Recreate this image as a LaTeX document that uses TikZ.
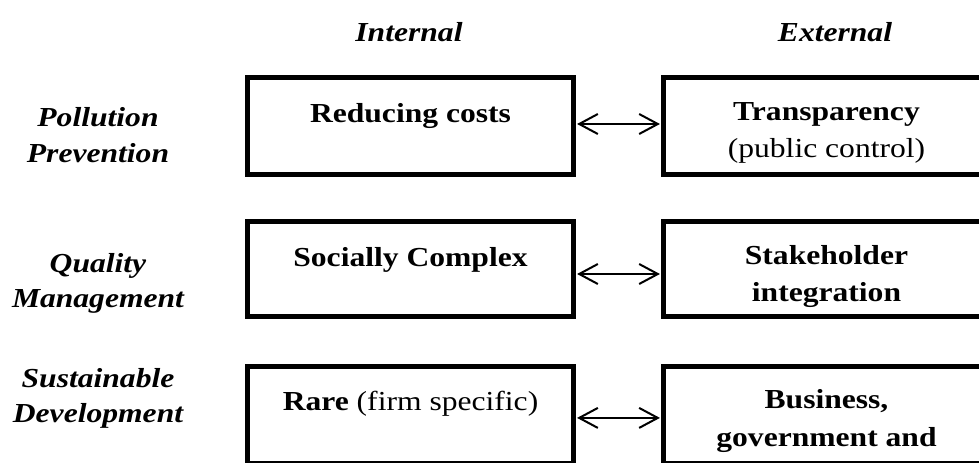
\documentclass[tikz,border=0pt]{standalone}
\usepackage{fontspec}
\setmainfont{Liberation Serif}[FakeStretch=1.15]
\usetikzlibrary{arrows.meta}
\begin{document}
\begin{tikzpicture}[x=0.75pt,y=-0.75pt,
  box/.style={draw, line width=3.75pt, inner sep=0pt, outer sep=1.875pt,
    minimum width=244.5pt, minimum height=72.75pt},
  txt/.style={anchor=base, inner sep=0pt, font=\fontsize{20.6}{27}\selectfont},
  btxt/.style={txt, font=\fontsize{20.6}{27}\selectfont\bfseries},
  lbl/.style={txt, font=\fontsize{20.6}{27}\selectfont\bfseries\itshape},
  link/.style={{Straight Barb[length=14pt,width=15pt]}-{Straight Barb[length=14pt,width=15pt]},
    line width=1.5pt, shorten <=0.8pt, shorten >=0.8pt}]
\useasboundingbox (0,0) rectangle (979,463);
\clip (0,0) rectangle (979,463);

% headers
\node[lbl] (hin) at (409,42) {Internal};
\node[lbl] (hex) at (835,42) {External};

% row labels
\node[lbl] (p1) at (98,127) {Pollution};
\node[lbl] (p2) at (98,163) {Prevention};
\node[lbl] (q1) at (98,273) {Quality};
\node[lbl] (q2) at (98,308) {Management};
\node[lbl] (s1) at (98,388) {Sustainable};
\node[lbl] (s2) at (98,423) {Development};

% boxes
\node[box] (L1) at (410.5,126) {};
\node[box] (R1) at (826.5,126) {};
\node[box, minimum height=71.25pt] (L2) at (410.5,269) {};
\node[box, minimum height=71.25pt] (R2) at (826.5,269) {};
\node[box, minimum height=72.4pt] (L3) at (410.5,415.25) {};
\node[box, minimum height=72.4pt] (R3) at (826.5,415.25) {};

% box texts
\node[btxt] (tl1) at (410.5,123) {Reducing costs};
\node[btxt] (tr1a) at (826.5,121) {Transparency};
\node[txt] (tr1b) at (826.5,158) {(public control)};
\node[btxt] (tl2) at (410.5,267) {Socially Complex};
\node[btxt] (tr2a) at (826.5,265) {Stakeholder};
\node[btxt] (tr2b) at (826.5,302) {integration};
\node[txt] (tl3) at (410.5,411) {\textbf{Rare} (firm specific)};
\node[btxt] (tr3a) at (826.5,409) {Business,};
\node[btxt] (tr3b) at (826.5,446) {government and};

% arrows
\draw[link] ([yshift=1.5pt]L1.east) -- ([yshift=1.5pt]R1.west);
\draw[link] ([yshift=-3.75pt]L2.east) -- ([yshift=-3.75pt]R2.west);
\draw[link] ([yshift=-2pt]L3.east) -- ([yshift=-2pt]R3.west);
\end{tikzpicture}
\end{document}
